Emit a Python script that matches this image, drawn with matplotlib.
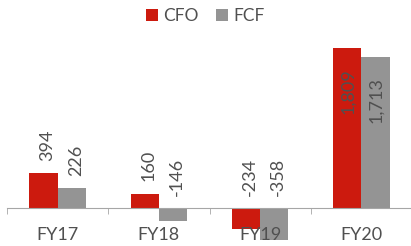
import numpy as np
import matplotlib.pyplot as plt

years = ['FY17', 'FY18', 'FY19', 'FY20']
cfo = [394, 160, -234, 1809]
fcf = [226, -146, -358, 1713]

plt.rcParams['font.family'] = ['Lato', 'DejaVu Sans']
red = '#CC1A0E'
grey = '#949494'
txt = '#505050'

fig = plt.figure(figsize=(4.11, 2.46), dpi=100)
ax = fig.add_axes([7 / 411, 0, 405 / 411, 216 / 246])
ax.set_axisbelow(False)

x = np.arange(len(years))
w = 0.28
b1 = ax.bar(x - w / 2, cfo, w, color=red, label='CFO', zorder=2)
b2 = ax.bar(x + w / 2, fcf, w, color=grey, label='FCF', zorder=2)

for xs, vals in [(x - w / 2, cfo), (x + w / 2, fcf)]:
    for xi, v in zip(xs, vals):
        s = '{:,}'.format(v)
        if v > 1000:
            ax.text(xi + 0.01, v - 230, s, rotation=90, ha='center', va='top',
                    fontsize=13, color=txt, zorder=3)
        else:
            ax.text(xi + 0.04, max(v, 0) + 140, s, rotation=90, ha='center',
                    va='bottom', fontsize=13, color=txt, zorder=3)

ax.set_xlim(-0.5, 3.5)
ax.set_ylim(-430, 2013)
for s in ['top', 'right', 'left']:
    ax.spines[s].set_visible(False)
ax.spines['bottom'].set_position(('data', 0))
ax.spines['bottom'].set_color('#A6A6A6')
ax.set_yticks([])
ax.set_xticks(x)
ax.set_xticklabels(years, fontsize=13, color=txt)
ax.tick_params(axis='x', which='major', length=0, pad=14)
ax.set_xticks(np.arange(-0.5, 3.6, 1), minor=True)
ax.tick_params(axis='x', which='minor', length=4, color='#A6A6A6')

fig.legend(handles=[b1, b2], loc='upper center', bbox_to_anchor=(0.5, 1.03),
           ncol=2, frameon=False, fontsize=12.5, handlelength=0.7,
           handleheight=0.7, handletextpad=0.3, columnspacing=1.0,
           labelcolor=txt)

fig.savefig('out.png', dpi=100)
